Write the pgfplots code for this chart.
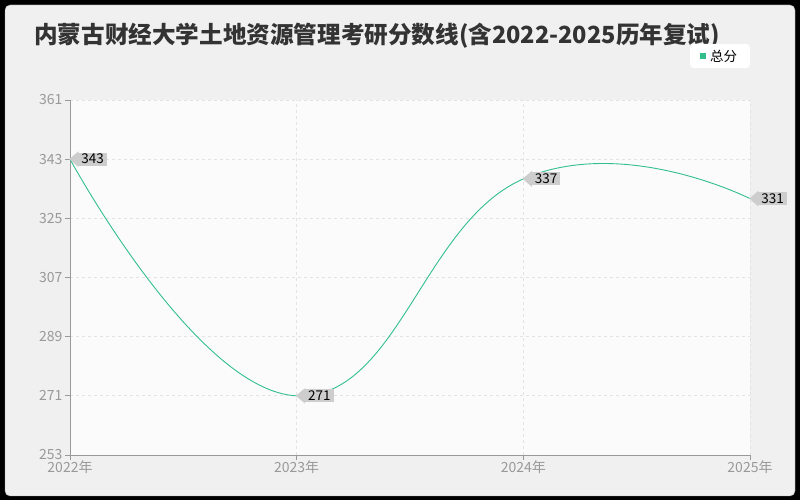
\documentclass[border=0pt]{standalone}
\usepackage{pgfplots}
\pgfplotsset{compat=1.18}
\usepackage{fontspec}
\setmainfont{Noto Sans CJK SC}

\definecolor{framebg}{HTML}{F0F0F0}
\definecolor{plotbg}{HTML}{FBFBFB}
\definecolor{axisgray}{HTML}{999999}
\definecolor{gridgray}{HTML}{E3E3E3}
\definecolor{linegreen}{HTML}{33BF8C}
\definecolor{titlegray}{HTML}{333333}
\definecolor{tagfill}{HTML}{CDCDCD}

\begin{document}
\begin{tikzpicture}
% page frame
\fill[black] (0pt,0pt) rectangle (800pt,500pt);
\fill[framebg, draw=gray!70, rounded corners=5pt] (5pt,4pt) rectangle (795pt,495pt);
% title
\node[anchor=base west, font=\fontsize{23.6}{28}\selectfont\bfseries, text=titlegray, inner sep=0pt]
  at (34pt,456pt) {内蒙古财经大学土地资源管理考研分数线(含2022-2025历年复试)};
% legend
\fill[white, rounded corners=4pt] (690pt,432pt) rectangle (750pt,456pt);
\fill[linegreen] (700pt,441pt) rectangle (706pt,447pt);
\node[anchor=west, font=\fontsize{13.5}{15}\selectfont, inner sep=0pt] at (710pt,444pt) {总分};

\begin{axis}[
    at={(70pt,45pt)}, anchor=south west,
    scale only axis,
    width=680pt, height=355pt,
    xmin=2022, xmax=2025,
    ymin=253, ymax=361,
    xtick={2022,2023,2024,2025},
    xticklabels={2022年,2023年,2024年,2025年},
    ytick={253,271,289,307,325,343,361},
    axis background/.style={fill=plotbg},
    axis x line*=bottom, axis y line*=left,
    axis line style={axisgray, line width=0.8pt},
    every outer x axis line/.append style={-},
    every outer y axis line/.append style={-},
    tick style={axisgray, line width=0.8pt},
    tick align=outside, major tick length=5pt,
    xmajorgrids, ymajorgrids,
    grid style={gridgray, dashed, line width=0.8pt},
    ticklabel style={text=axisgray, font=\fontsize{14}{16}\selectfont},
    xticklabel style={yshift=3pt},
    yticklabel style={xshift=1pt},
    /pgf/number format/assume math mode=true,
    clip=false,
    nodes near coords,
    every node near coord/.append style={
        fill=tagfill, anchor=west, text=black, xshift=8pt,
        font=\fontsize{13.5}{15}\selectfont,
        inner xsep=3pt, inner ysep=1.5pt,
        append after command={\pgfextra{\fill[tagfill]
            (\tikzlastnode.north west) -- ([xshift=-8pt]\tikzlastnode.west)
            -- (\tikzlastnode.south west) -- cycle;}}
    },
]
\addplot[linegreen, line width=0.9pt, smooth, tension=0.8, mark=none]
  coordinates {(2022,343) (2023,271) (2024,337) (2025,331)};
\end{axis}
\end{tikzpicture}
\end{document}
